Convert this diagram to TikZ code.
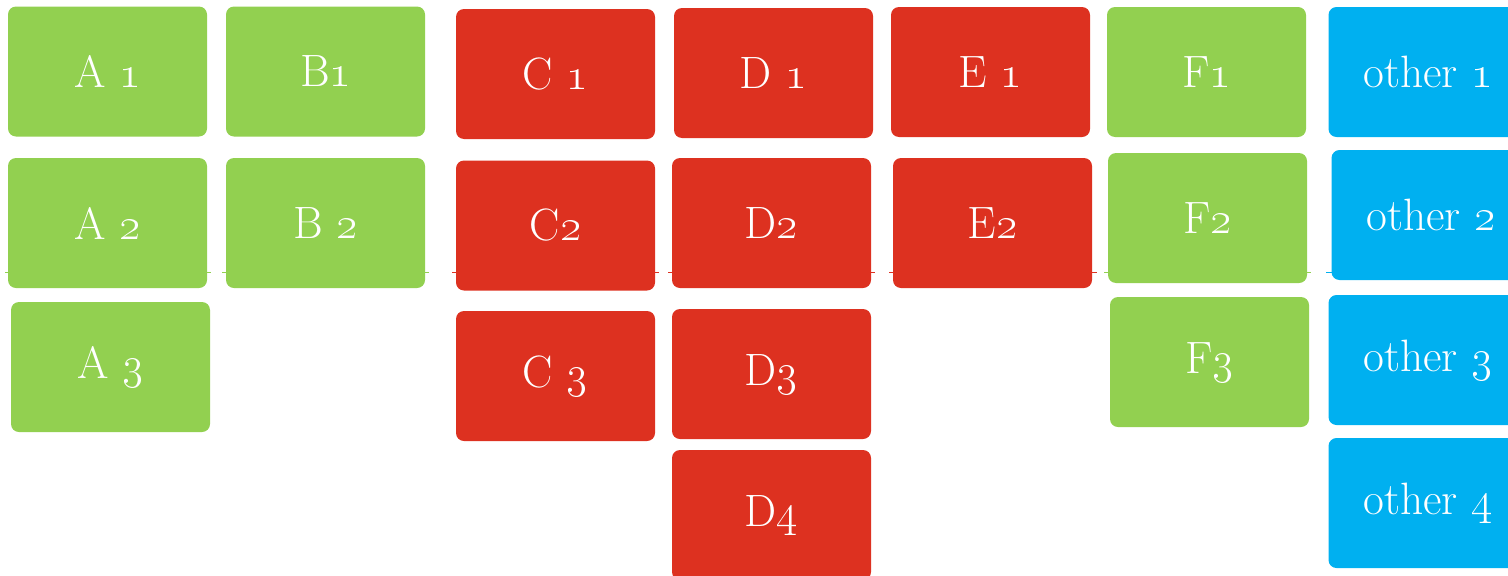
\documentclass[tikz,border=0pt]{standalone}
\usepackage{fix-cm}
\definecolor{boxgreen}{RGB}{146,208,80}
\definecolor{boxred}{RGB}{221,49,32}
\definecolor{boxblue}{RGB}{0,176,240}
\newcommand{\onum}[1]{\oldstylenums{#1}}
\tikzset{
	tile/.style={rounded corners=6pt, minimum width=149.25pt, minimum height=97.5pt,
		inner sep=0pt, text=white, font=\fontsize{34}{40}\selectfont},
	greentile/.style={tile, fill=boxgreen},
	redtile/.style={tile, fill=boxred},
	bluetile/.style={tile, fill=boxblue},
}
\begin{document}
\begin{tikzpicture}[x=0.75pt,y=-0.75pt]
		\useasboundingbox (0,0) rectangle (1508,575);
		\clip (0,0) rectangle (1508,575);
		%draw thin guide lines behind the second row
		\foreach \xa/\xb/\col in {5/211/boxgreen, 222/429/boxgreen, 452/659/boxred,
			668/875/boxred, 889/1097/boxred, 1104/1311/boxgreen, 1326/1508/boxblue}
			\draw [\col, line width=0.75pt] (\xa,272) -- (\xb,272);
		%draw column A
		\node[greentile] (a1) at (107.5,71.5) {A \onum{1}};
		\node[greentile] (a2) at (107.5,223) {A \onum{2}};
		\node[greentile] (a3) at (110.5,367) {A \onum{3}};
		%draw column B
		\node[greentile] (b1) at (325.5,71.5) {B\onum{1}};
		\node[greentile] (b2) at (325.5,223) {B \onum{2}};
		%draw column C
		\node[redtile] (c1) at (555.5,74) {C \onum{1}};
		\node[redtile] (c2) at (555.5,225.5) {C\onum{2}};
		\node[redtile] (c3) at (555.5,376) {C \onum{3}};
		%draw column D
		\node[redtile] (d1) at (773.5,73) {D \onum{1}};
		\node[redtile] (d2) at (771.5,223) {D\onum{2}};
		\node[redtile] (d3) at (771.5,374) {D\onum{3}};
		\node[redtile] (d4) at (771.5,515) {D\onum{4}};
		%draw column E
		\node[redtile] (e1) at (990.5,72) {E \onum{1}};
		\node[redtile] (e2) at (992.5,223) {E\onum{2}};
		%draw column F
		\node[greentile] (f1) at (1206.5,72) {F\onum{1}};
		\node[greentile] (f2) at (1207.5,218) {F\onum{2}};
		\node[greentile] (f3) at (1209.5,362) {F\onum{3}};
		%draw others
		\node[bluetile] (o1) at (1428,72) {other \onum{1}};
		\node[bluetile] (o2) at (1431,215) {other \onum{2}};
		\node[bluetile] (o3) at (1428,360) {other \onum{3}};
		\node[bluetile] (o4) at (1428,503) {other \onum{4}};
		
	\end{tikzpicture}
\end{document}
